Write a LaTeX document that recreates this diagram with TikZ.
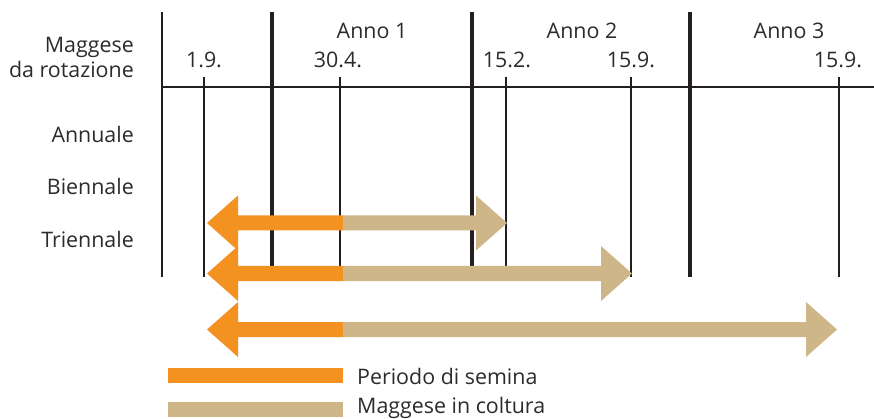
\documentclass[tikz,border=0pt]{standalone}
\usepackage{fontspec}
\setmainfont{Open Sans}
\usepackage{tikz}
\usetikzlibrary{positioning}

\definecolor{semina}{RGB}{243,146,32}
\definecolor{coltura}{RGB}{206,182,137}
\definecolor{inchiostro}{RGB}{35,31,32}
\definecolor{testo}{RGB}{45,42,43}

\begin{document}
\begin{tikzpicture}[x=1pt, y=-1pt,
        yearline/.style={inchiostro, line width=3.4pt},
        tickline/.style={inchiostro, line width=2.4pt},
        lbl/.style={text=testo, inner sep=0pt, font=\fontsize{21.4}{25}\selectfont}]
        \useasboundingbox (0,0) rectangle (874,419);
        %---------------------------
        \coordinate (a0) at (162,87);
        \coordinate (a1) at (874,87);
        \draw[tickline] (162,12) -- (162,277);
        \foreach \x in {272,472,690}
            \draw[yearline] (\x,12) -- (\x,277);
        \foreach \x in {204,340,506,631,839}
            \draw[tickline] (\x,77) -- (\x,277);
        \draw[tickline] (a0) -- (a1);
        %---------------------------
        \node[lbl] (y1) at (372,31) {Anno 1};
        \node[lbl] (y2) at (582,31) {Anno 2};
        \node[lbl] (y3) at (789,31) {Anno 3};
        \node[lbl] (d1) at (204,60) {1.9.};
        \node[lbl] (d2) at (338,60) {30.4.};
        \node[lbl] (d3) at (507,60) {15.2.};
        \node[lbl] (d4) at (631,60) {15.9.};
        \node[lbl] (d5) at (838,60) {15.9.};
        \node[lbl, anchor=east, align=right] (head) at (134,57) {Maggese\\da rotazione};
        \node[lbl, anchor=east] (ann) at (134,134) {Annuale};
        \node[lbl, anchor=east] (bie) at (134,186) {Biennale};
        \node[lbl, anchor=east] (tri) at (134,239) {Triennale};
        %--------------------------
        \foreach \c/\r in {223/476, 273.5/601, 329.5/806} {
            \fill[semina] (207,\c) -- (238,\c-27.5) -- (238,\c-7.5) -- (343,\c-7.5)
                -- (343,\c+7.5) -- (238,\c+7.5) -- (238,\c+27.5) -- cycle;
            \fill[coltura] (343,\c-7.5) -- (\r,\c-7.5) -- (\r,\c-27.5) -- (\r+31,\c)
                -- (\r,\c+27.5) -- (\r,\c+7.5) -- (343,\c+7.5) -- cycle;
        }
        %--------------------------
        \fill[semina] (168,368) rectangle (343,383);
        \fill[coltura] (168,402) rectangle (343,417);
        \node[lbl, anchor=west] (leg1) at (357,376) {Periodo di semina};
        \node[lbl, anchor=west] (leg2) at (357,408) {Maggese in coltura};
\end{tikzpicture}
\end{document}
